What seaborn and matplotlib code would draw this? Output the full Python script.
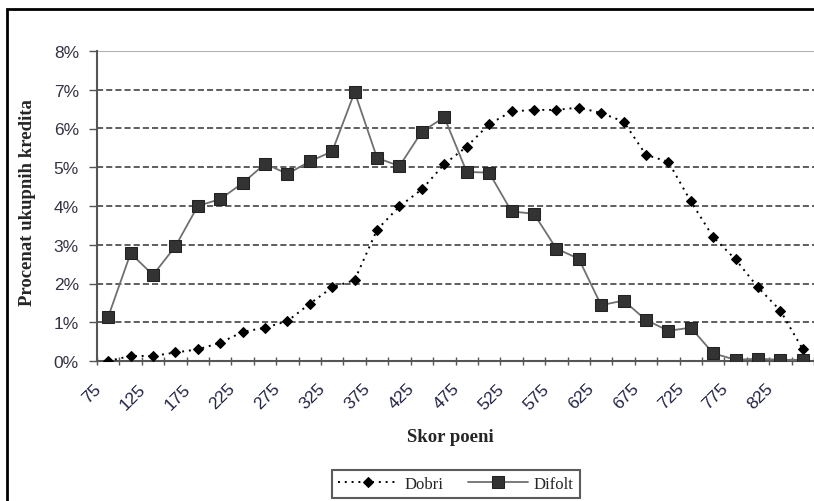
import numpy as np
import pandas as pd
import matplotlib
matplotlib.use("Agg")
import matplotlib.pyplot as plt
import matplotlib.transforms as mtransforms
import seaborn as sns
from matplotlib.patches import Rectangle
from matplotlib.ticker import FuncFormatter

scores = list(range(75, 851, 25))
dobri = [0.00, 0.13, 0.13, 0.22, 0.30, 0.47, 0.75, 0.86, 1.03, 1.48, 1.90, 2.09,
         3.39, 3.99, 4.43, 5.08, 5.53, 6.11, 6.44, 6.48, 6.48, 6.54, 6.40, 6.18,
         5.32, 5.14, 4.12, 3.20, 2.62, 1.90, 1.30, 0.30]
difolt = [1.14, 2.78, 2.22, 2.96, 4.00, 4.18, 4.59, 5.09, 4.83, 5.15, 5.41, 6.94,
          5.24, 5.03, 5.92, 6.29, 4.88, 4.86, 3.86, 3.80, 2.90, 2.64, 1.44, 1.56,
          1.06, 0.78, 0.86, 0.20, 0.03, 0.06, 0.03, 0.03]
tick_labels = [str(s) for s in scores[::2]]

sns.set_theme(style="white")
plt.rcParams['font.family'] = ['Liberation Sans', 'DejaVu Sans']
serif = ["Liberation Serif", "DejaVu Serif"]

pos = np.arange(len(scores))
df = pd.DataFrame({"pos": pos, "Dobri": np.array(dobri) / 100, "Difolt": np.array(difolt) / 100})

fig = plt.figure(figsize=(8.14, 5.02), dpi=100)
ax = fig.add_axes([97 / 814, 1 - 362 / 502, 1 - 97 / 814, (362 - 52) / 502])

# gridlines
for v in np.arange(0.01, 0.08, 0.01):
    ax.axhline(v, color="#333333", lw=1.1, ls=(0, (4, 2)), zorder=0)
ax.axhline(0.08, color="#b0b0b0", lw=1.5, zorder=0)

sns.lineplot(data=df, x="pos", y="Dobri", ax=ax, color="black", lw=1.4,
             ls=(0, (1, 2.5)), marker="D", markersize=5, markeredgecolor="black",
             label="Dobri", zorder=3)
sns.lineplot(data=df, x="pos", y="Difolt", ax=ax, color="#707070", lw=1.3,
             marker="s", markersize=8.5, markerfacecolor="#333333",
             markeredgecolor="#222222", label="Difolt", zorder=4)

ax.set_xlim(-0.5, -0.5 + (814 - 97) / 22.55)
ax.set_ylim(0, 0.08)
ax.set_yticks(np.arange(0, 0.081, 0.01))
ax.yaxis.set_major_formatter(FuncFormatter(lambda v, p: f"{v*100:.0f}%"))

ax.set_xticks(pos[::2])
ax.set_xticklabels(tick_labels, rotation=45, ha="right", va="top", rotation_mode="anchor")
ax.set_xticks(np.arange(-0.5, len(scores), 1), minor=True)
ax.tick_params(axis="x", which="major", length=0, pad=14, labelsize=12.5, labelcolor="#222244")
ax.tick_params(axis="x", which="minor", length=6, width=1, color="#555555", direction="inout", bottom=True)
ax.tick_params(axis="y", which="major", length=6, width=1, color="#555555", direction="out",
               left=True, labelsize=12.5, labelcolor="#333344", pad=7)
offset = mtransforms.ScaledTranslation(-0.15, 0, fig.dpi_scale_trans)
for lab in ax.get_xticklabels():
    lab.set_transform(lab.get_transform() + offset)

for s in ["top", "right"]:
    ax.spines[s].set_visible(False)
ax.spines["left"].set_color("#555555")
ax.spines["left"].set_linewidth(1.5)
ax.spines["bottom"].set_color("#555555")
ax.spines["bottom"].set_linewidth(1.5)

ax.set_xlabel("")
ax.set_ylabel("")
fig.text(28 / 814, 1 - 203 / 502, "Procenat ukupnih kredita", rotation=90,
         ha="center", va="center", fontsize=13.5, fontweight="bold", family=serif)
fig.text(450 / 814, 1 - 438 / 502, "Skor poeni", ha="center", va="center",
         fontsize=13.5, fontweight="bold", family=serif)

ax.get_legend().remove()
handles, labels = ax.get_legend_handles_labels()
leg = fig.legend(handles, labels, loc="upper center", bbox_to_anchor=(456 / 814, 1 - 471 / 502),
                 ncol=2, frameon=True, fancybox=False, edgecolor="#333333",
                 prop={"family": serif, "size": 12},
                 handlelength=3.6, handletextpad=0.35, columnspacing=1.5,
                 borderpad=0.35, borderaxespad=0)
leg.get_frame().set_linewidth(1.5)

# outer figure border
fig.patches.append(Rectangle((7 / 814, -0.1), 1.2, 1 - 10 / 502 + 0.1,
                             transform=fig.transFigure, fill=False,
                             edgecolor="black", lw=2, zorder=10))

fig.savefig("out.png", dpi=100)
